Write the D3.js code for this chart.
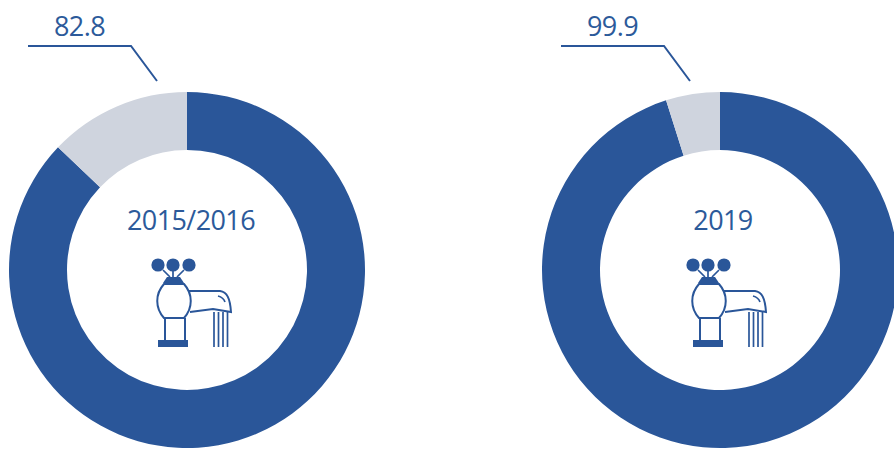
<!DOCTYPE html>
<html>
<head>
<meta charset="utf-8">
<script src="https://cdn.jsdelivr.net/npm/d3@7"></script>
<style>
  html, body { margin: 0; padding: 0; background: #fff; overflow: hidden; }
  text { font-family: "Open Sans", sans-serif; fill: #2c5a9a; }
</style>
</head>
<body>
<div id="chart"></div>
<script>
// values
const years = ["2015/2016", "2019"]
const labels = ["82.8", "99.9"]
const blueShare = [87.1, 95.1]
const greyShare = [12.9, 4.9]

const width = 894, height = 449
const blue = "#2a5699", grey = "#cfd4de"

const centers = [187, 720]
const cy = 270
const outer = 178, inner = 120

const svg = d3.select("#chart").append("svg")
    .attr("width", width)
    .attr("height", height)

const pie = d3.pie().sort(null)
const arc = d3.arc().innerRadius(inner).outerRadius(outer)

// Tap icon, drawn in the coordinates of the left donut and shifted for the right one
const drawTap = (g) => {
    g.attr("fill", "none").attr("stroke", blue).attr("stroke-width", 1.7)

    g.selectAll("circle")
        .data([158, 173, 189])
        .join("circle")
        .attr("cx", d => d)
        .attr("cy", 265)
        .attr("r", 6.6)
        .attr("fill", blue)
        .attr("stroke", "none")

    g.append("path").attr("d", "M163 270L170 277M184 270L177 277M173 271V277")
    g.append("path").attr("fill", blue).attr("stroke", "none")
        .attr("d", "M167 277H180L184 283H163Z")
    // body
    g.append("path").attr("stroke-width", 2)
        .attr("d", "M164 284C155 294 155 308 164 318H184C193 308 193 294 184 284Z")
    g.append("path").attr("stroke-width", 2).attr("d", "M165 318V340M185 318V340")
    g.append("rect").attr("x", 158).attr("y", 340).attr("width", 30).attr("height", 7)
        .attr("fill", blue).attr("stroke", "none")
    // spout
    g.append("path").attr("stroke-width", 2)
        .attr("d", "M189 291L220 291C227 292 230 298 231 312L213 309L190 312")
    g.append("path").attr("d", "M218 296C222 297 224 299 225 302")
    // water
    g.selectAll("line")
        .data([214, 218.5, 223, 227.5])
        .join("line")
        .attr("x1", d => d).attr("x2", d => d)
        .attr("y1", 312).attr("y2", 347)
}

years.forEach((year, i) => {
    const cx = centers[i]

    const donut = svg.append("g").attr("transform", `translate(${cx},${cy})`)
    donut.selectAll("path")
        .data(pie([blueShare[i], greyShare[i]]))
        .join("path")
        .attr("d", arc)
        .attr("fill", (d, j) => j == 0 ? blue : grey)

    svg.append("text")
        .attr("x", cx + (i == 0 ? 4 : 3))
        .attr("y", 230)
        .attr("text-anchor", "middle")
        .attr("font-size", 27)
        .attr("letter-spacing", -0.6)
        .text(year)

    svg.append("g")
        .attr("transform", `translate(${i == 0 ? 0 : 535},0)`)
        .call(drawTap)

    // leader line with the value
    const off = cx - centers[0]
    svg.append("path")
        .attr("fill", "none")
        .attr("stroke", blue)
        .attr("stroke-width", 2)
        .attr("d", d3.line()([[28 + off, 46], [131 + off, 46], [157 + off, 81]]))

    svg.append("text")
        .attr("x", 79.5 + off)
        .attr("y", 36)
        .attr("text-anchor", "middle")
        .attr("font-size", 27)
        .attr("letter-spacing", -0.6)
        .text(labels[i])
})
</script>
</body>
</html>
